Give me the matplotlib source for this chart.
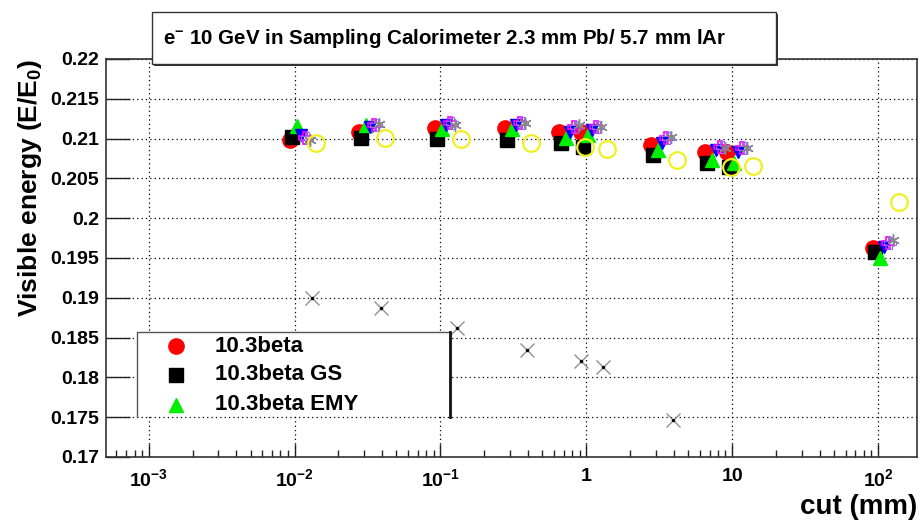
import numpy as np
import matplotlib
matplotlib.use("Agg")
import matplotlib.pyplot as plt
from matplotlib.patches import Rectangle
from matplotlib.lines import Line2D
from matplotlib.ticker import FixedLocator, LogLocator, NullFormatter, FixedFormatter

plt.rcParams['font.family'] = ['Liberation Sans', 'DejaVu Sans']
plt.rcParams['mathtext.fontset'] = 'custom'
plt.rcParams['mathtext.rm'] = 'Liberation Sans:bold'
plt.rcParams['mathtext.bf'] = 'Liberation Sans:bold'
plt.rcParams['mathtext.it'] = 'Liberation Sans:bold'

# ---- data ----
cuts = [0.01, 0.03, 0.1, 0.3, 0.7, 1, 3, 7, 10, 100]
v_103beta = [0.2098, 0.2108, 0.2113, 0.2113, 0.2108, 0.2108, 0.2092, 0.2083, 0.2083, 0.1963]
v_gs = [0.2102, 0.2101, 0.2100, 0.2098, 0.2094, 0.2089, 0.2079, 0.2069, 0.2064, 0.1958]
v_emy = [0.2116, 0.2117, 0.2112, 0.2112, 0.2101, 0.2105, 0.2086, 0.2073, 0.2069, 0.1950]
v_blue = [0.2105, 0.2115, 0.2117, 0.2117, 0.2108, 0.2111, 0.2094, 0.2086, 0.2083, 0.1964]
v_magenta = [0.2101, 0.2117, 0.2120, 0.2120, 0.2115, 0.2115, 0.2101, 0.2089, 0.2088, 0.1969]
v_gray = [0.2098, 0.2118, 0.2117, 0.2120, 0.2117, 0.2115, 0.2102, 0.2088, 0.2088, 0.1973]
v_yellow = [0.2094, 0.2101, 0.2100, 0.2094, 0.2089, 0.2087, 0.2073, 0.2064, 0.2066, 0.2020]
cuts_low = [0.01, 0.03, 0.1, 0.3, 0.7, 1, 3]
v_low = [0.1900, 0.1887, 0.1862, 0.1835, 0.1821, 0.1813, 0.1747]

legend_labels = ["10.3beta", "10.3beta GS", "10.3beta EMY"]
title_text = r"e$^{-}$ 10 GeV in Sampling Calorimeter 2.3 mm Pb/ 5.7 mm lAr"
x_tick_vals = [1e-3, 1e-2, 1e-1, 1, 10, 100]
x_tick_labels = [r"10$^{-3}$", r"10$^{-2}$", r"10$^{-1}$", "1", "10", r"10$^{2}$"]
y_ticks = [0.17, 0.175, 0.18, 0.185, 0.19, 0.195, 0.2, 0.205, 0.21, 0.215, 0.22]
y_tick_labels = ["0.17", "0.175", "0.18", "0.185", "0.19", "0.195", "0.2",
                 "0.205", "0.21", "0.215", "0.22"]

W, H = 922, 521
fig = plt.figure(figsize=(W / 100, H / 100), dpi=100)
L, R, T, B = 106, 917, 59, 457
ax = fig.add_axes([L / W, 1 - B / H, (R - L) / W, (B - T) / H])
ax.set_xscale('log')
ax.set_xlim(5.1e-4, 185)
ax.set_ylim(0.17, 0.22)

def shift(xs, px):
    return np.array(xs) * 10 ** (px / 146.0)

ax.plot(shift(cuts, -5), v_103beta, 'o', color='#ff0000', ms=11, mec='#ff0000', zorder=3)
ax.plot(shift(cuts, -3), v_gs, 's', color='black', ms=10, zorder=4)
ax.plot(shift(cuts, 2), v_emy, '^', color='#00ee00', ms=10.5, mec='#00ee00', zorder=5)
ax.plot(shift(cuts, 6), v_blue, 'v', color='#0000ff', ms=9, zorder=6)
ax.plot(shift(cuts, 10), v_magenta, 'P', mfc='none', mec='#ff00ff', mew=1.2, ms=9, zorder=7)
ax.plot(shift(cuts, 12), v_magenta, 'P', mfc='none', mec='#8a6cff', mew=0.8, ms=8, zorder=7)
ax.plot(shift(cuts, 15), v_gray, marker=(6, 2, 0), ls='none', color='#888888', mew=1.0, ms=9, zorder=8)
ax.plot(shift(cuts, 21), v_yellow, 'o', mfc='none', mec='#f0f020', mew=1.6, ms=12, zorder=9)
ax.plot(shift(cuts_low, 17), v_low, 'x', color='#909090', mew=1.0, ms=10, zorder=9)
ax.plot(shift(cuts_low, 17), v_low, '.', color='black', ms=3, zorder=10)

# axes styling (ROOT-like)
ax.xaxis.set_major_locator(FixedLocator(x_tick_vals))
ax.xaxis.set_major_formatter(FixedFormatter(x_tick_labels))
ax.xaxis.set_minor_locator(LogLocator(base=10, subs=np.arange(2, 10)))
ax.xaxis.set_minor_formatter(NullFormatter())
ax.yaxis.set_major_locator(FixedLocator(y_ticks))
ax.yaxis.set_major_formatter(FixedFormatter(y_tick_labels))
ax.yaxis.set_minor_locator(FixedLocator([]))

ax.tick_params(axis='x', which='major', direction='in', length=9.5, width=1.0,
               labelsize=14, pad=8, top=False, color='#222222')
ax.tick_params(axis='x', which='minor', direction='in', length=5, width=1.0, top=False,
               color='#222222')
ax.tick_params(axis='y', which='major', direction='in', length=17, width=1.0,
               labelsize=14, pad=5, right=False, color='#222222')
for lbl in ax.get_yticklabels() + ax.get_xticklabels():
    lbl.set_fontweight('bold')

ax.grid(True, which='major', color='black', linestyle=(0, (1, 2.5)), linewidth=0.9)
for s in ax.spines.values():
    s.set_linewidth(1.2)
    s.set_color('#333333')

# labels
fig.text(30 / W, 1 - 188 / H, r"Visible energy (E/E$_{\mathbf{0}}$)", rotation=90,
         ha='center', va='center', fontsize=19, fontweight='bold')
fig.text(917 / W, 1 - 507 / H, "cut (mm)", ha='right', va='center',
         fontsize=20, fontweight='bold')

# title box with shadow
def fx(px):
    return px / W

def fy(py):
    return 1 - py / H

tb = (152, 12, 776, 64)
fig.add_artist(Rectangle((fx(tb[0] + 2), fy(tb[3] + 2)), fx(tb[2] - tb[0]), (tb[3] - tb[1]) / H,
                         transform=fig.transFigure, facecolor='#333333', edgecolor='none', zorder=10))
fig.add_artist(Rectangle((fx(tb[0]), fy(tb[3])), fx(tb[2] - tb[0]), (tb[3] - tb[1]) / H,
                         transform=fig.transFigure, facecolor='white', edgecolor='#333333',
                         linewidth=1.0, zorder=11))
fig.text(fx(163), fy(38), title_text, ha='left', va='center', fontsize=14.8,
         fontweight='bold', zorder=12)

# legend box
lb = (137, 332, 450, 416)
fig.add_artist(Rectangle((fx(lb[0]), fy(lb[3])), fx(lb[2] - lb[0]), (lb[3] - lb[1]) / H,
                         transform=fig.transFigure, facecolor='white', edgecolor='none', zorder=10))
fig.add_artist(Line2D([fx(lb[0]), fx(lb[0]), fx(lb[2])], [fy(417), fy(lb[1]), fy(lb[1])],
                      transform=fig.transFigure, color='#555555', lw=1.0, zorder=11))
fig.add_artist(Line2D([fx(lb[2]), fx(lb[2])], [fy(lb[1]), fy(417)],
                      transform=fig.transFigure, color='#111111', lw=2.0, zorder=11))
leg_styles = [dict(marker='o', color='#ff0000', ms=11),
              dict(marker='s', color='black', ms=10),
              dict(marker='^', color='#00ee00', ms=10.5)]
rows = [346, 375, 405]
for lab, st, ry in zip(legend_labels, leg_styles, rows):
    fig.add_artist(Line2D([fx(176)], [fy(ry)], transform=fig.transFigure, ls='none',
                          zorder=12, **st))
    fig.text(fx(215), fy(ry), lab, ha='left', va='center', fontsize=16,
             fontweight='bold', zorder=12)

fig.savefig("out.png", dpi=100)
